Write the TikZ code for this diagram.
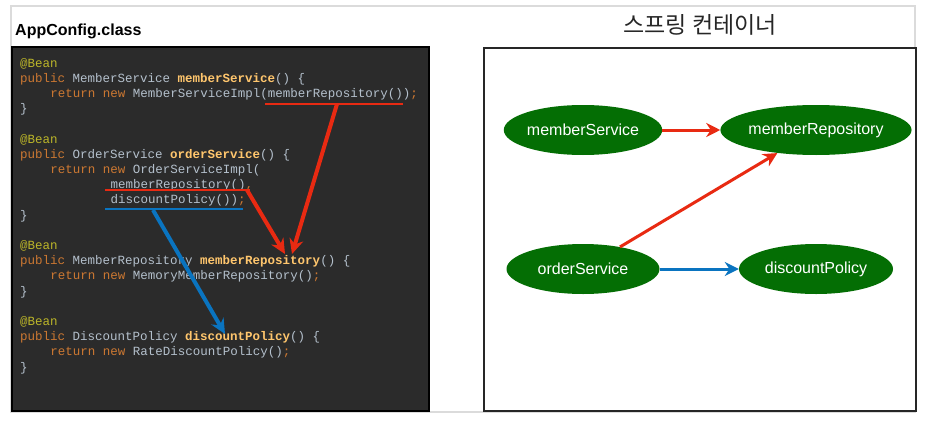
\documentclass[tikz,border=0pt]{standalone}
\usepackage{fontspec}
\setmainfont{Liberation Sans}
\newfontfamily\codefont{Liberation Mono}
\newfontfamily\krfont{Noto Sans CJK KR}
\usetikzlibrary{arrows.meta,shapes.geometric}

\definecolor{codebg}{HTML}{2B2B2B}
\definecolor{codeplain}{HTML}{B4C0CC}
\definecolor{codekw}{HTML}{CC7832}
\definecolor{codeanno}{HTML}{BBB529}
\definecolor{codefn}{HTML}{FFC66D}
\definecolor{beangreen}{HTML}{046E04}
\definecolor{refred}{HTML}{E82A12}
\definecolor{refblue}{HTML}{0A74C0}

\newcommand{\kw}[1]{\textcolor{codekw}{#1}}
\newcommand{\an}[1]{\textcolor{codeanno}{#1}}
\newcommand{\fn}[1]{\textcolor{codefn}{\bfseries #1}}

\tikzset{
  codeline/.style={anchor=base west, inner sep=0pt, text=codeplain,
    font=\codefont\fontsize{12.5}{15}\selectfont},
  bean/.style={ellipse, fill=beangreen, text=white, inner sep=0pt,
    minimum width=153pt, minimum height=50pt, font=\fontsize{16}{18}\selectfont},
  mark line/.style={line width=2pt},
  ref arrow/.style={line width=4pt, -{Stealth[length=15pt,width=14pt]}},
  dep arrow/.style={line width=3pt, -{Stealth[length=14pt,width=14pt]}},
}

\begin{document}
\begin{tikzpicture}[x=1pt,y=-1pt]
\useasboundingbox (0,0) rectangle (941,420);

% frames
\draw[black!14, line width=2pt] (11,6) rectangle (915,412);
\draw[black, line width=1.5pt, fill=codebg] (12,47) rectangle (429,411);
\draw[black!85, line width=2.5pt, fill=white] (484,48) rectangle (916,411);

% titles
\node[anchor=base west, inner sep=0pt, font=\bfseries\fontsize{16}{18}\selectfont] (appTitle) at (15,36) {AppConfig.class};
\node[anchor=base, inner sep=0pt, font=\krfont\fontsize{23}{25}\selectfont, text=black!85] (containerTitle) at (700,34) {스프링 컨테이너};

% AppConfig code
\node[codeline] (l1)  at (20,67.0)    {\an{@Bean}};
\node[codeline] (l2)  at (20,82.2)    {\kw{public} MemberService \fn{memberService}() \{};
\node[codeline] (l3)  at (50.1,97.4)  {\kw{return} \kw{new} MemberServiceImpl(memberRepository())\kw{;}};
\node[codeline] (l4)  at (20,112.6)   {\}};
\node[codeline] (l6)  at (20,143.0)   {\an{@Bean}};
\node[codeline] (l7)  at (20,158.2)   {\kw{public} OrderService \fn{orderService}() \{};
\node[codeline] (l8)  at (50.1,173.4) {\kw{return} \kw{new} OrderServiceImpl(};
\node[codeline] (l9)  at (110.4,188.6){memberRepository()\kw{,}};
\node[codeline] (l10) at (110.4,203.8){discountPolicy())\kw{;}};
\node[codeline] (l11) at (20,219.0)   {\}};
\node[codeline] (l13) at (20,249.4)   {\an{@Bean}};
\node[codeline] (l14) at (20,264.6)   {\kw{public} MemberRepository \fn{memberRepository}() \{};
\node[codeline] (l15) at (50.1,279.8) {\kw{return} \kw{new} MemoryMemberRepository()\kw{;}};
\node[codeline] (l16) at (20,295.0)   {\}};
\node[codeline] (l18) at (20,325.4)   {\an{@Bean}};
\node[codeline] (l19) at (20,340.6)   {\kw{public} DiscountPolicy \fn{discountPolicy}() \{};
\node[codeline] (l20) at (50.1,355.8) {\kw{return} \kw{new} RateDiscountPolicy()\kw{;}};
\node[codeline] (l21) at (20,371.0)   {\}};

% underlined calls and their targets
\coordinate (callRepoA) at (337,104);
\coordinate (callRepoB) at (247,190);
\coordinate (callPolicy) at (153,210);
\coordinate (defRepoA) at (292,254);
\coordinate (defRepoB) at (285,254);
\coordinate (defPolicy) at (225,334);

\draw[refred, mark line] (265,104) -- (403,104);
\draw[refred, mark line] (105,190) -- (250,190);
\draw[refblue, mark line] (105,209) -- (243,209);

\draw[refred, ref arrow] (callRepoA) -- (defRepoA);
\draw[refred, ref arrow] (callRepoB) -- (defRepoB);
\draw[refblue, ref arrow] (callPolicy) -- (defPolicy);

% spring container
\node[bean] (memberService) at (583,130) {memberService};
\node[bean, minimum width=180pt] (memberRepository) at (816,130) {memberRepository};
\node[bean] (orderService) at (583,269) {orderService};
\node[bean, minimum width=154pt] (discountPolicy) at (816,269) {discountPolicy};

\draw[refred, dep arrow] (memberService) -- (memberRepository);
\draw[refred, dep arrow] (orderService) -- (memberRepository);
\draw[refblue, dep arrow] (orderService) -- (discountPolicy);
\end{tikzpicture}
\end{document}
